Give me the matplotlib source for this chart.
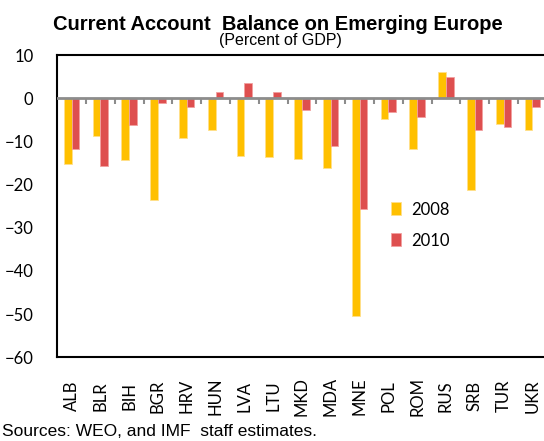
import numpy as np
import matplotlib
matplotlib.use("Agg")
import matplotlib.pyplot as plt

countries = ["ALB", "BLR", "BIH", "BGR", "HRV", "HUN", "LVA", "LTU", "MKD",
             "MDA", "MNE", "POL", "ROM", "RUS", "SRB", "TUR", "UKR"]
ca_2008 = [-15.2, -8.8, -14.4, -23.5, -9.3, -7.3, -13.3, -13.7, -14.0,
           -16.2, -50.4, -4.7, -11.8, 6.1, -21.2, -5.9, -7.3]
ca_2010 = [-11.8, -15.6, -6.2, -1.0, -2.1, 1.5, 3.6, 1.5, -2.8,
           -11.1, -25.6, -3.2, -4.4, 5.0, -7.3, -6.6, -2.1]

plt.rcParams['font.family'] = ['Lato', 'DejaVu Sans']

fig = plt.figure(figsize=(5.44, 4.41), dpi=100)
ax = fig.add_axes([0.105, 0.19, 0.9, 0.685])

x = np.arange(len(countries))
w = 0.27
ax.bar(x - w/2, ca_2008, w, color='#FFC000', edgecolor='#FFE08A', linewidth=0.6,
       label='2008', zorder=2)
ax.bar(x + w/2, ca_2010, w, color='#DE4F4F', edgecolor='#F2A0A0', linewidth=0.6,
       label='2010', zorder=2)

# zero line with category separators
ax.axhline(0, color='#8C8C8C', lw=2, zorder=3)
ax.vlines(x[:-1] + 0.5, -1.3, 0, color='#8C8C8C', lw=1.5, zorder=3)

ax.set_xlim(-0.5, len(countries) - 0.5)
ax.set_ylim(-60, 10)
ax.set_yticks(range(-60, 11, 10))
ax.set_xticks(x)
ax.set_xticklabels(countries, rotation=90, fontsize=12, va='center')
ax.tick_params(axis='y', length=0, labelsize=12, pad=17)
ax.tick_params(axis='x', length=0, pad=28)
for s in ['left', 'bottom', 'top', 'right']:
    ax.spines[s].set_linewidth(1.5)
    ax.spines[s].set_color('black')

leg = ax.legend(loc='upper left', bbox_to_anchor=(0.652, 0.565), frameon=False,
                fontsize=12, handlelength=0.6, handleheight=0.8, labelspacing=0.9,
                handletextpad=0.6)

fig.text(0.51, 0.932, "Current Account  Balance on Emerging Europe", ha='center',
         va='baseline', fontsize=14.5, fontweight='bold', family='Liberation Sans')
fig.text(0.515, 0.898, "(Percent of GDP)", ha='center', va='baseline',
         fontsize=11.5, family='Liberation Sans')
fig.text(0.004, 0.012, "Sources: WEO, and IMF  staff estimates.", ha='left',
         fontsize=12.5, family='Liberation Sans')

fig.savefig("out.png", dpi=100)
